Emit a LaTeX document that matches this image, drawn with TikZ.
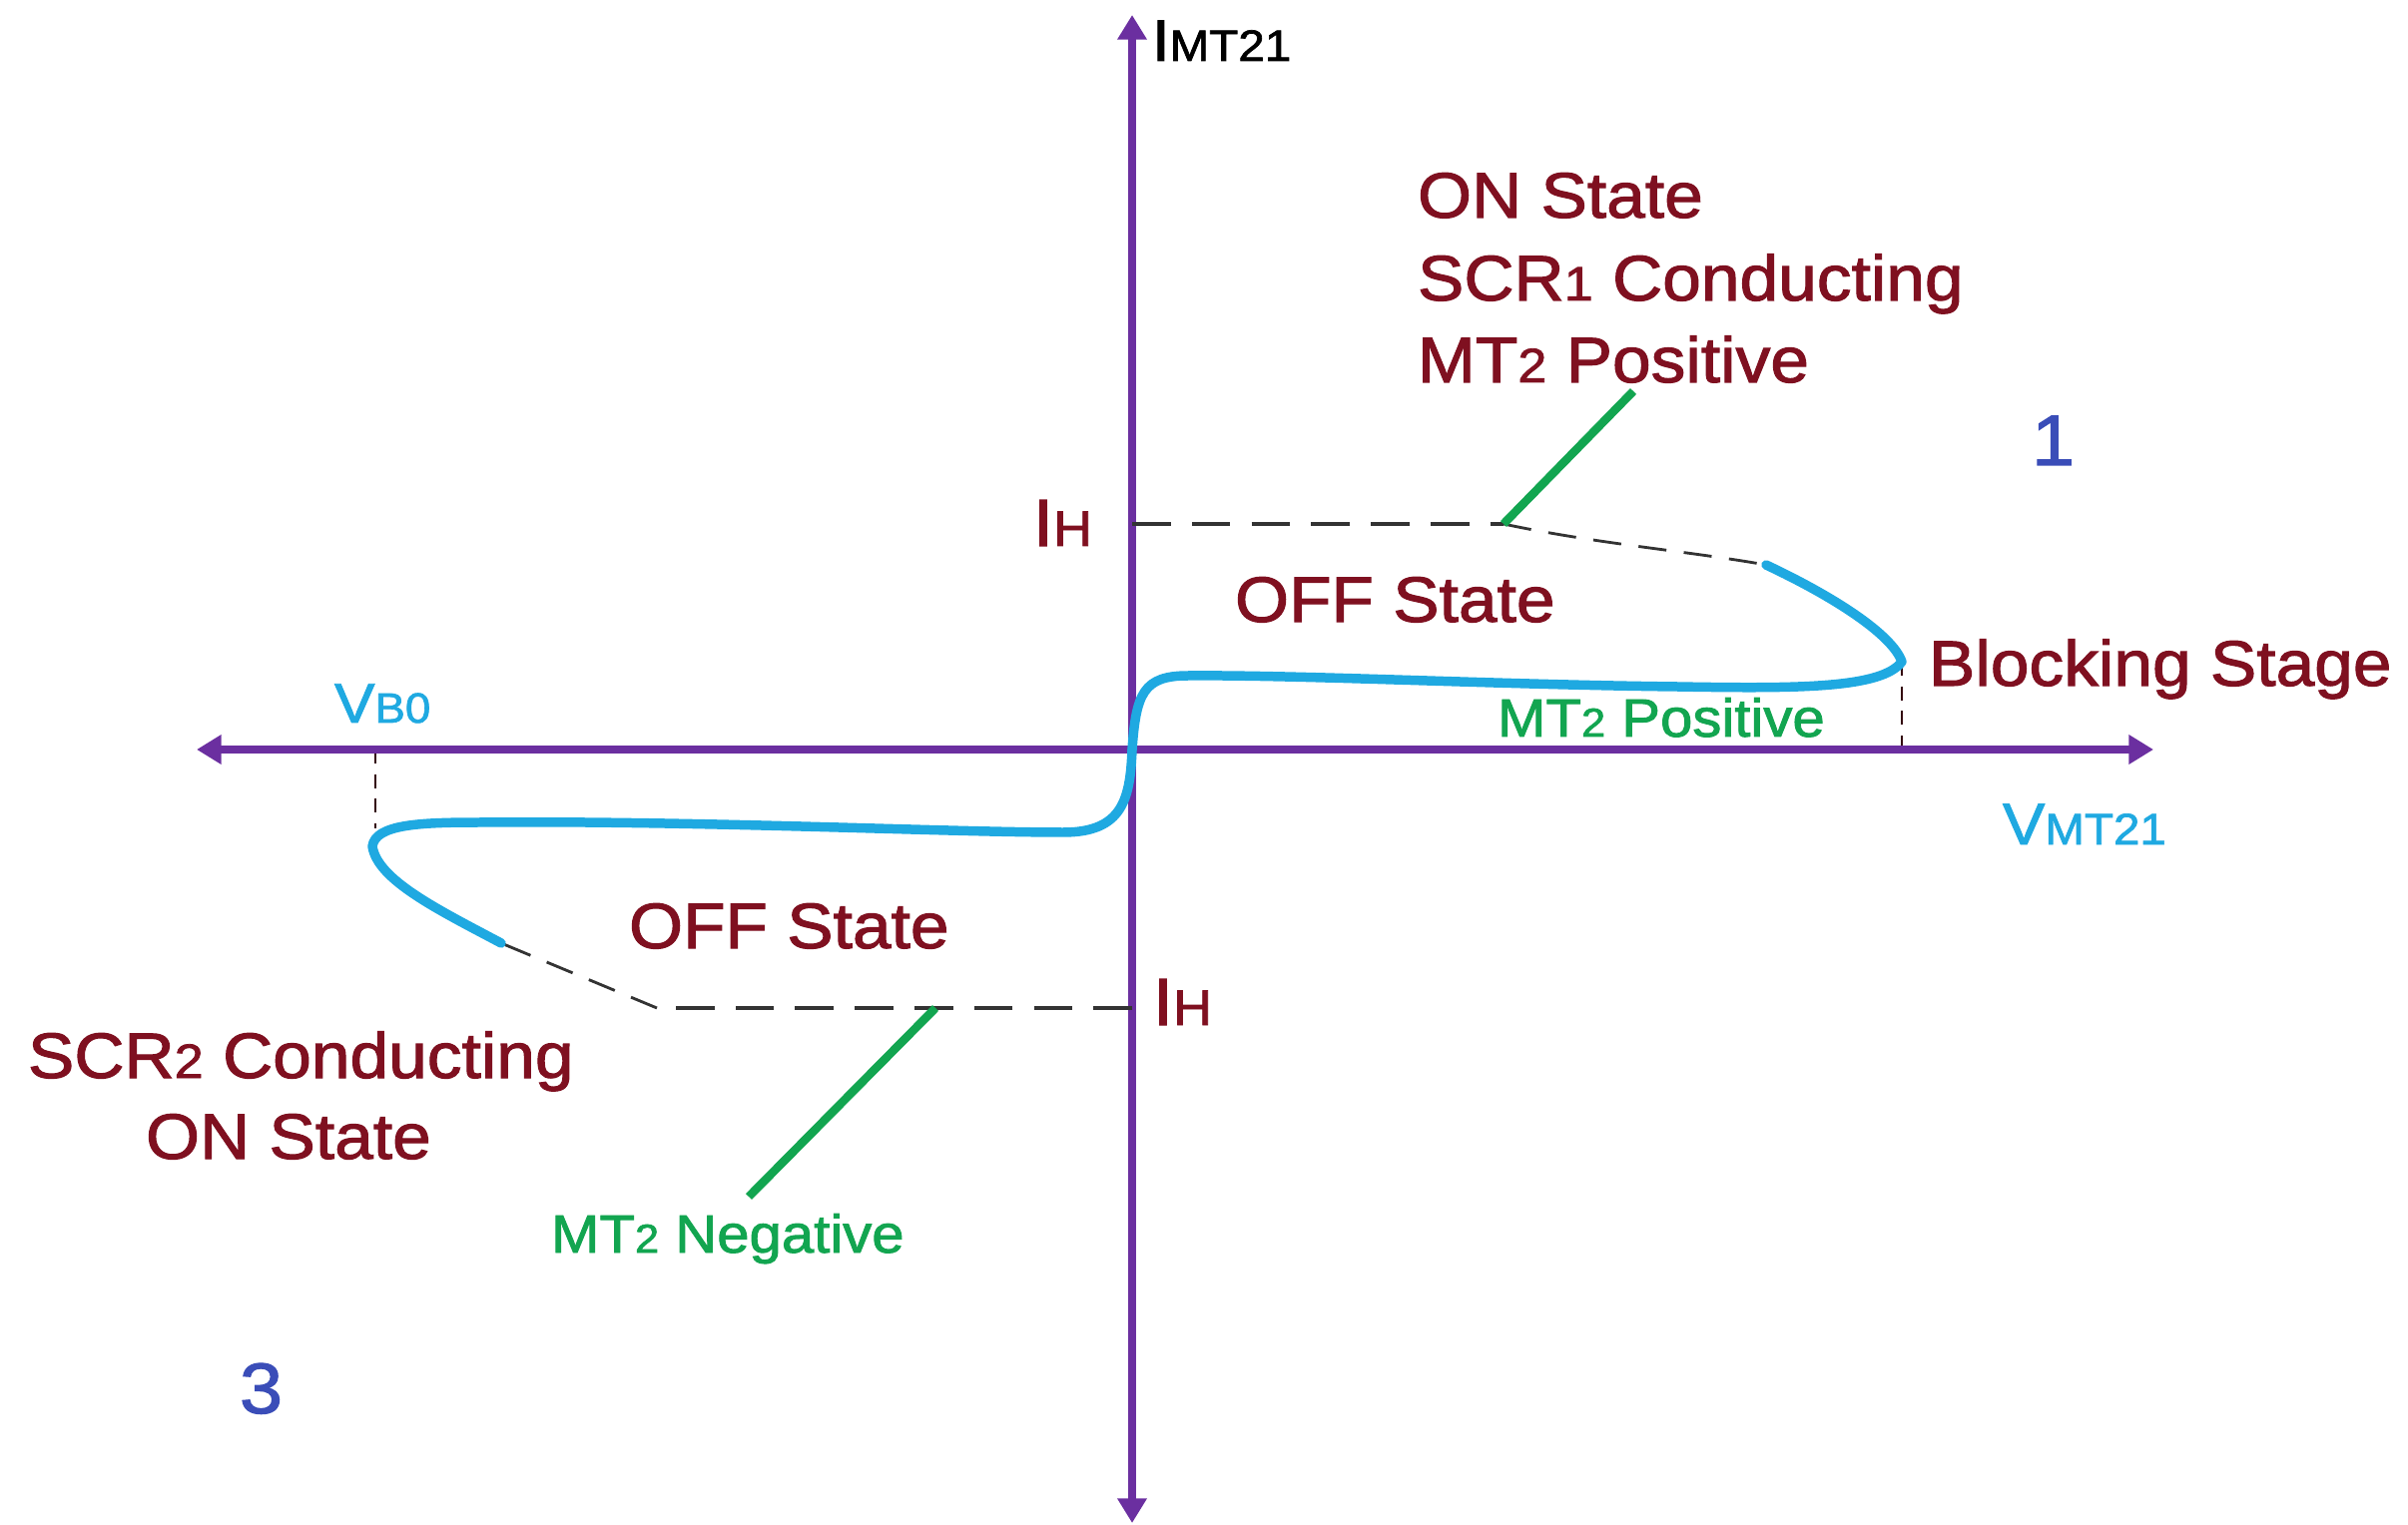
\documentclass[tikz,border=0pt]{standalone}
\usepackage{fontspec}
\setmainfont{Liberation Sans}[FakeStretch=1.08,FakeBold=1.6]
\usetikzlibrary{arrows.meta}
\definecolor{axispurple}{HTML}{6B2FA0}
\definecolor{darkred}{HTML}{7F1020}
\definecolor{leadgreen}{HTML}{12A550}
\definecolor{curveblue}{HTML}{1FA9E1}
\definecolor{numblue}{HTML}{3A4DB8}
\newcommand{\subsm}[1]{{\fontsize{\dimexpr\sizeref*3/4\relax}{10pt}\selectfont #1}}
\newdimen\sizeref
\newcommand{\lab}[1]{\sizeref=#1pt\fontsize{#1pt}{#1pt}\selectfont}
\tikzset{
  x=0.01cm,y=-0.01cm,
  txt/.style={anchor=base west,inner sep=0pt,outer sep=0pt},
  redtxt/.style={txt,text=darkred,font=\lab{18.3}},
  greentxt/.style={txt,text=leadgreen,font=\lab{15.3}},
  bluetxt/.style={txt,text=curveblue},
  numtxt/.style={txt,text=numblue,font=\lab{20.4}},
  axisline/.style={draw=axispurple,line width=2pt,{Triangle[length=7pt,width=8pt]}-{Triangle[length=7pt,width=8pt]}},
  curveline/.style={draw=curveblue,line width=2.7pt,line cap=round,line join=round},
  holdline/.style={draw=black!80,line width=1pt,dash pattern=on 11pt off 6pt},
  slopeline/.style={draw=black!80,line width=0.8pt,dash pattern=on 8pt off 5pt},
  dropline/.style={draw=black!60!darkred,line width=0.6pt,dash pattern=on 4pt off 3pt},
  leadline/.style={draw=leadgreen,line width=2.4pt},
}
\begin{document}
\begin{tikzpicture}
\useasboundingbox (0,0) rectangle (2412,1528);
\coordinate (O) at (1134,751);
\coordinate (yT) at (1134,15);
\coordinate (yB) at (1134,1526);
\coordinate (xL) at (197,751);
\coordinate (xR) at (2157,751);
\coordinate (tipA) at (1905,663);
\coordinate (tipAx) at (1905,751);
\coordinate (tipB) at (376,830);
\coordinate (tipBx) at (376,751);
\coordinate (endA) at (1769,566);
\coordinate (endB) at (502,945);
\coordinate (holdA0) at (1134,525);
\coordinate (holdA) at (1506,525);
\coordinate (holdB0) at (1134,1010);
\coordinate (holdBm) at (937,1010);
\coordinate (holdB) at (658,1010);
\coordinate (leadA) at (1636,392);
\coordinate (leadB) at (750,1199);

\draw[dropline] (tipA) -- (tipAx);
\draw[dropline] (tipBx) -- (tipB);
\draw[axisline] (xL) -- (xR);
\draw[axisline] (yB) -- (yT);

\draw[holdline] (holdA0) -- (holdA);
\draw[slopeline] (holdA) .. controls (1600,545) and (1690,552) .. (endA);
\draw[holdline] (holdB0) -- (holdB);
\draw[slopeline] (holdB) -- (endB);

\draw[leadline] (holdA) -- (leadA);
\draw[leadline] (holdBm) -- (leadB);

\draw[curveline] (O) .. controls (1138,695) and (1145,677) .. (1190,677)
  .. controls (1300,676) and (1500,686) .. (1680,688)
  .. controls (1800,690) and (1885,690) .. (tipA)
  .. controls (1895,635) and (1835,597) .. (endA);
\draw[curveline] (O) .. controls (1132,800) and (1125,834) .. (1065,834)
  .. controls (950,834) and (700,822) .. (480,824)
  .. controls (420,824) and (376,826) .. (373,848)
  .. controls (378,882) and (440,912) .. (endB);

\node[redtxt] (on1) at (1420,218) {ON State};
\node[redtxt] (scr1) at (1420,301) {SCR\subsm{1} Conducting};
\node[redtxt] (mt1) at (1420,383) {MT\subsm{2} Positive};
\node[redtxt] (off1) at (1237,623) {OFF State};
\node[redtxt] (off2) at (630,950) {OFF State};
\node[redtxt,font=\lab{19}] (ih1) at (1035,547) {I\subsm{H}};
\node[redtxt,font=\lab{19}] (ih2) at (1155,1027) {I\subsm{H}};
\node[redtxt] (block) at (1932,687) {Blocking Stage};
\node[redtxt] (scr2) at (28,1080) {SCR\subsm{2} Conducting};
\node[redtxt] (on2) at (146,1161) {ON State};
\node[greentxt] (mtp) at (1500,738) {MT\subsm{2} Positive};
\node[greentxt] (mtn) at (552,1255) {MT\subsm{2} Negative};
\node[bluetxt,font=\lab{16}] (vbo) at (335,724) {V\subsm{B0}};
\node[bluetxt,font=\lab{16.7}] (vmt) at (2006,846) {V\subsm{MT21}};
\node[txt,text=black,font=\lab{16.7}] (imt) at (1154,61) {I\subsm{MT21}};
\node[numtxt] (n1) at (2035,466) {1};
\node[numtxt] (n3) at (240,1416) {3};
\end{tikzpicture}
\end{document}
